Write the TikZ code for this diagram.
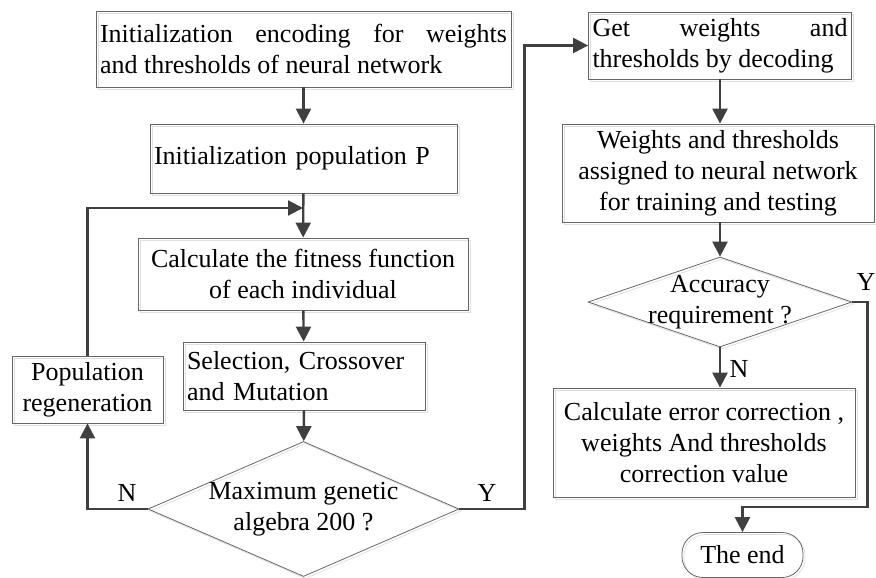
\documentclass[tikz,border=0pt]{standalone}
\usepackage{fontspec}
\setmainfont{Liberation Serif}
\usetikzlibrary{positioning}
\usetikzlibrary{shapes.geometric}
\usetikzlibrary{arrows.meta}
\usetikzlibrary{shadows}

\tikzset{
	ghost/.style={general shadow={draw=black!12, line width=0.8pt, shadow xshift=2pt, shadow yshift=-2pt}},
	box/.style={draw=black!60, line width=0.8pt, inner sep=4pt, align=center, ghost},
	decision/.style={diamond, draw=black!60, line width=0.8pt, inner sep=0pt, ghost},
	flow/.style={draw=black!75, line width=2.4pt, -{Triangle[length=15pt,width=15pt]}},
	tag/.style={inner sep=0pt}
}

\begin{document}
\begin{tikzpicture}[x=1pt, y=-1pt, every node/.style={font=\fontsize{26}{31}\selectfont}]
	\useasboundingbox (0,0) rectangle (876,578);
	% left column
	\node at (303.5,49) (encode) [box, align=justify, text width=407pt, minimum height=76pt] {Initialization encoding for weights\linebreak and thresholds of neural network};
	\node at (303.5,158.5) (initpop) [box, align=left, text width=299pt, minimum height=69pt] {Initialization population P};
	\node at (303,274) (fitness) [box, minimum width=330pt, minimum height=72pt] {Calculate the fitness function\\of each individual};
	\node at (304,376) (select) [box, align=left, text width=234pt, minimum height=68pt] {Selection, Crossover\\and Mutation};
	\node at (87.5,389.5) (regen) [box, minimum width=151pt, minimum height=67pt] {Population\\regeneration};
	\node at (303.5,509) (maxgen) [decision, minimum width=311pt, minimum height=135pt] {};
	\node at (maxgen) (maxgentext) [tag, align=center] {Maximum genetic\\algebra 200 ?};
	\coordinate (loopin) at (303,208);
	% right column
	\node at (720,45.5) (decode) [box, align=justify, text width=255pt, minimum height=67pt] {Get weights and\linebreak thresholds by decoding};
	\node at (718,173) (assign) [box, minimum width=312pt, minimum height=98pt] {Weights and thresholds\\assigned to neural network\\for training and testing};
	\node at (720,302) (accur) [decision, minimum width=264pt, minimum height=90pt] {};
	\node at (accur) (accurtext) [tag, align=center] {Accuracy\\requirement ?};
	\node at (704,442.5) (correct) [box, minimum width=302pt, minimum height=109pt] {Calculate error correction ,\\weights And thresholds\\correction value};
	\node at (742.5,555) (theend) [box, rounded corners=21pt, minimum width=121pt, minimum height=45pt] {The end};
	\coordinate (endturn) at (742.5,507);
	% connectors
	\draw[flow] (encode) -- (initpop);
	\draw[flow] (initpop) -- (fitness);
	\draw[flow] (fitness) -- (select);
	\draw[flow] (select) -- (maxgen);
	\draw[flow] (maxgen.west) -| (regen.south);
	\draw[flow] (regen.north) |- (loopin);
	\draw[flow] (maxgen.east) -- ++(65,0) |- (decode.west);
	\draw[flow] (decode.south) -- (decode.south |- assign.north);
	\draw[flow] (assign.south -| accur.north) -- (accur.north);
	\draw[flow] (accur.south) -- (accur.south |- correct.north);
	\draw[flow] (accur.east) -- ++(15,0) |- (endturn) -- (theend.north);
	\node at (127,493) (nleft) [tag] {N};
	\node at (487,493) (yleft) [tag] {Y};
	\node at (866,282) (yright) [tag] {Y};
	\node at (739,369) (nright) [tag] {N};
\end{tikzpicture}
\end{document}
